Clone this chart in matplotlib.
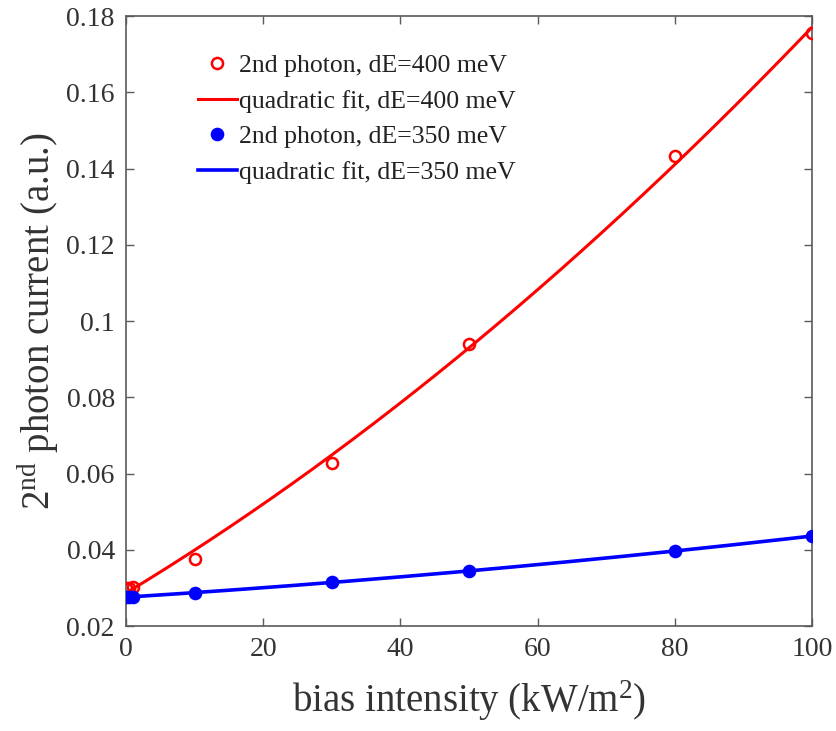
import numpy as np
import matplotlib
matplotlib.use("Agg")
import matplotlib.pyplot as plt

# ===========================
# DATA
# ===========================
x_red = [0, 0.5, 1, 10, 30, 50, 80, 100]
y_red = [0.0299, 0.0300, 0.0302, 0.0376, 0.0628, 0.0940, 0.1434, 0.1755]

x_blue = [0, 0.5, 1, 10, 30, 50, 80, 100]
y_blue = [0.0276, 0.0276, 0.0277, 0.0287, 0.0315, 0.0344, 0.0397, 0.0436]

x_ticks = [0, 20, 40, 60, 80, 100]
y_ticks = [0.02, 0.04, 0.06, 0.08, 0.1, 0.12, 0.14, 0.16, 0.18]
y_tick_labels = ["0.02", "0.04", "0.06", "0.08", "0.1", "0.12", "0.14", "0.16", "0.18"]

labels = ["2nd photon, dE=400 meV", "quadratic fit, dE=400 meV",
          "2nd photon, dE=350 meV", "quadratic fit, dE=350 meV"]

# ===========================
# STYLE
# ===========================
plt.rcParams["font.family"] = ["Liberation Serif", "DejaVu Serif"]
plt.rcParams["mathtext.fontset"] = "custom"
plt.rcParams["mathtext.rm"] = "Liberation Serif"
plt.rcParams["mathtext.it"] = "Liberation Serif:italic"

AXIS_GRAY = "#5a5a5a"
TEXT_GRAY = "#333333"

fig = plt.figure(figsize=(8.36, 7.31), dpi=100)
ax = fig.add_axes([0.1507, 0.1436, 0.8206, 0.8345])

# quadratic fits computed from the points
x_fit = np.linspace(0, 100, 300)
fit_red = np.polyval(np.polyfit(x_red, y_red, 2), x_fit)
fit_blue = np.polyval(np.polyfit(x_blue, y_blue, 2), x_fit)

ax.plot(x_red, y_red, "o", color="red", mfc="none", ms=8, mew=1.8,
        label=labels[0], zorder=3)
ax.plot(x_fit, fit_red, "-", color="red", lw=2.2, label=labels[1])
ax.plot(x_blue, y_blue, "o", color="blue", mfc="blue", ms=8, mew=1.8,
        label=labels[2], zorder=3)
ax.plot(x_fit, fit_blue, "-", color="blue", lw=2.6, label=labels[3])

ax.set_xlim(0, 100)
ax.set_ylim(0.02, 0.18)
ax.set_xticks(x_ticks)
ax.set_yticks(y_ticks)
ax.set_yticklabels(y_tick_labels)

ax.tick_params(direction="in", length=6, width=1, top=True, right=True,
               colors=AXIS_GRAY, labelcolor=TEXT_GRAY, labelsize=20)
ax.tick_params(axis="x", pad=8)
ax.tick_params(axis="y", pad=8)
for spine in ax.spines.values():
    spine.set_color(AXIS_GRAY)
    spine.set_linewidth(1.2)

ax.set_xlabel(r"bias intensity (kW/m$^{2}$)", fontsize=28, color=TEXT_GRAY, labelpad=12)
ax.set_ylabel(r"2$^{\mathrm{nd}}$ photon current (a.u.)", fontsize=28, color=TEXT_GRAY, labelpad=4)

leg = ax.legend(loc="upper left", bbox_to_anchor=(0.09, 0.955), frameon=False,
                fontsize=18.5, handlelength=1.5, handletextpad=0.1,
                labelspacing=0.5, borderaxespad=0)
for t in leg.get_texts():
    t.set_color("#222222")

fig.savefig("out.png", dpi=100)
